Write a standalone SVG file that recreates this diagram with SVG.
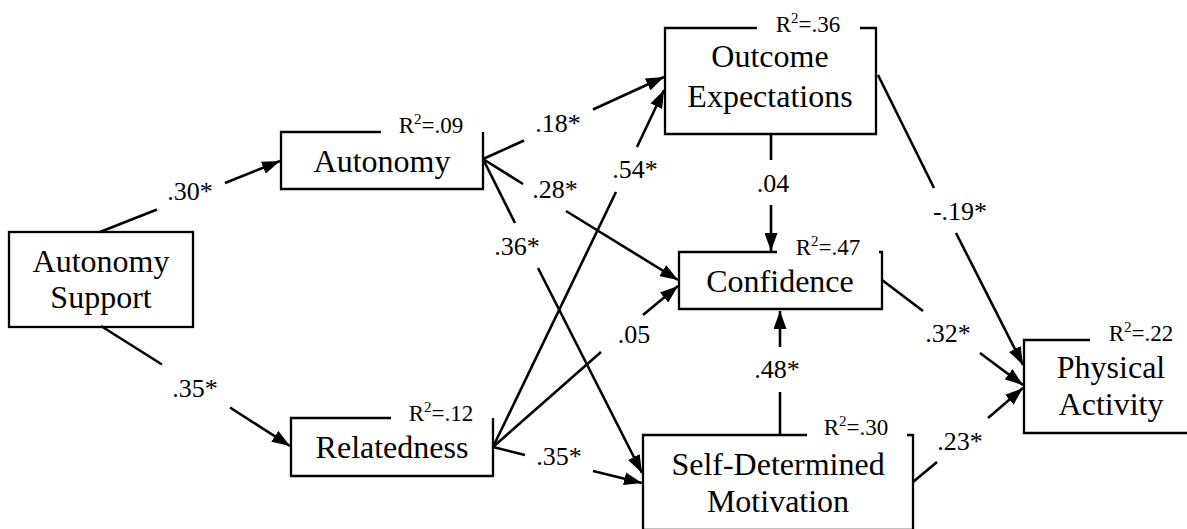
<svg xmlns="http://www.w3.org/2000/svg" width="1187" height="529" viewBox="0 0 1187 529">
  <style>
    text { font-family: 'Liberation Serif', 'DejaVu Serif', 'Noto Serif', serif; fill: #000; text-anchor: middle; }
    .box { fill: none; stroke: #000; stroke-width: 2.3; }
    .lbl { font-size: 32px; }
    .r2 { font-size: 23px; }
    .sup { font-size: 15px; }
    .edge { fill: none; stroke: #000; stroke-width: 2.6; marker-end: url(#arrow); }
    .coef { font-size: 26px; }
  </style>
  <defs>
    <marker id="arrow" viewBox="0 0 18 13" markerWidth="18" markerHeight="13" refX="18" refY="6.5" markerUnits="userSpaceOnUse" orient="auto">
      <path d="M0,0 L18,6.5 L0,13 z" fill="#000"/>
    </marker>
  </defs>
  <rect width="1187" height="529" fill="#fff"/>

  <!-- connectors: each path is broken where its coefficient sits -->
  <g id="connectors">
    <path class="edge" d="M100,232 L157,209.5 M225,183 L280,161"/>
    <path class="edge" d="M101,326 L162,364.5 M230,407.5 L290,446"/>
    <path class="edge" d="M483,159 L524,140.5 M593,109.5 L664,77"/>
    <path class="edge" d="M493,447 L616,192 M637,147 L664,90"/>
    <path class="edge" d="M483,159 L523,184 M566,211 L678,280"/>
    <path class="edge" d="M483,159 L515,223 M538,268 L642,473"/>
    <path class="edge" d="M493,447 L525,455 M593,471 L642,483"/>
    <path class="edge" d="M493,447 L601,352 M643,315 L678,286"/>
    <path class="edge" d="M771,134 L771,160 M771,205 L771,251"/>
    <path class="edge" d="M780,436 L780,392 M780,347 L780,311"/>
    <path class="edge" d="M878,75 L934,188 M956,233 L1023,365"/>
    <path class="edge" d="M882,280 L923,311 M980,353 L1023,385"/>
    <path class="edge" d="M913,482 L937,462 M988,418 L1023,388"/>

    <text class="coef" x="190" y="200">.30*</text>
    <text class="coef" x="195" y="397">.35*</text>
    <text class="coef" x="558" y="132">.18*</text>
    <text class="coef" x="635" y="178">.54*</text>
    <text class="coef" x="555" y="198">.28*</text>
    <text class="coef" x="517" y="255">.36*</text>
    <text class="coef" x="559" y="465">.35*</text>
    <text class="coef" x="634" y="343">.05</text>
    <text class="coef" x="773" y="192">.04</text>
    <text class="coef" x="777" y="378">.48*</text>
    <text class="coef" x="960" y="220">-.19*</text>
    <text class="coef" x="948" y="342">.32*</text>
    <text class="coef" x="960" y="450">.23*</text>
  </g>

  <!-- nodes: top edge left open where the R² value sits -->
  <g id="autonomy-support">
    <rect class="box" x="9" y="232" width="184" height="95"/>
    <text class="lbl" x="101" y="272">Autonomy</text>
    <text class="lbl" x="101" y="308">Support</text>
  </g>

  <g id="autonomy">
    <path class="box" d="M381,132 L281,132 L281,189 L483,189 L483,132"/>
    <text class="lbl" x="382" y="172">Autonomy</text>
    <text class="r2" x="431" y="133">R<tspan class="sup" dy="-9">2</tspan><tspan dy="9">=.09</tspan></text>
  </g>

  <g id="relatedness">
    <path class="box" d="M391,418 L291,418 L291,476 L493,476 L493,418"/>
    <text class="lbl" x="392" y="458">Relatedness</text>
    <text class="r2" x="441" y="421">R<tspan class="sup" dy="-9">2</tspan><tspan dy="9">=.12</tspan></text>
  </g>

  <g id="outcome-expectations">
    <path class="box" d="M757,28 L665,28 L665,134 L876,134 L876,28 L860,28"/>
    <text class="lbl" x="770" y="67">Outcome</text>
    <text class="lbl" x="770" y="107">Expectations</text>
    <text class="r2" x="808" y="32">R<tspan class="sup" dy="-9">2</tspan><tspan dy="9">=.36</tspan></text>
  </g>

  <g id="confidence">
    <path class="box" d="M777,252 L679,252 L679,309 L882,309 L882,252 L879,252"/>
    <text class="lbl" x="780" y="292">Confidence</text>
    <text class="r2" x="828" y="255">R<tspan class="sup" dy="-9">2</tspan><tspan dy="9">=.47</tspan></text>
  </g>

  <g id="self-determined-motivation">
    <path class="box" d="M807,435 L643,435 L643,530 L913,530 L913,435 L907,435"/>
    <text class="lbl" x="778" y="475">Self-Determined</text>
    <text class="lbl" x="778" y="512">Motivation</text>
    <text class="r2" x="856" y="435">R<tspan class="sup" dy="-9">2</tspan><tspan dy="9">=.30</tspan></text>
  </g>

  <g id="physical-activity">
    <path class="box" d="M1090,340 L1024,340 L1024,433 L1199,433 L1199,340 L1192,340"/>
    <text class="lbl" x="1111" y="378">Physical</text>
    <text class="lbl" x="1111" y="415">Activity</text>
    <text class="r2" x="1141" y="341">R<tspan class="sup" dy="-9">2</tspan><tspan dy="9">=.22</tspan></text>
  </g>
</svg>
